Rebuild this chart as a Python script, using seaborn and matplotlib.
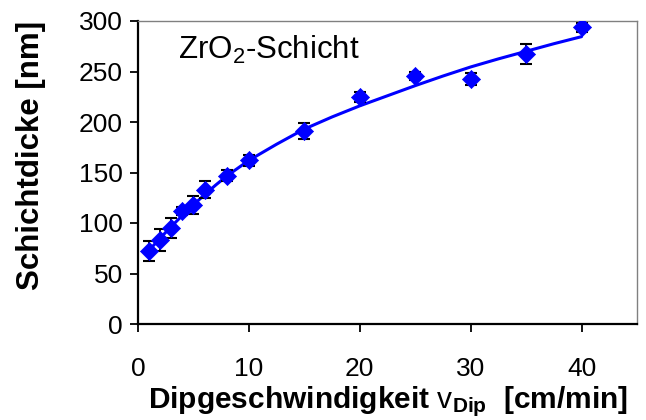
import matplotlib
matplotlib.use("Agg")
import matplotlib.pyplot as plt
import seaborn as sns
import pandas as pd

# Data
speed = [1, 2, 3, 4, 5, 6, 8, 10, 15, 20, 25, 30, 35, 40]
thickness = [72, 83, 95, 112, 118, 133, 147, 162, 191, 225, 246, 243, 267, 294]
errors = [10, 11, 10, 4, 9, 8.5, 5, 5.5, 8, 5, 4, 6, 10, 4.5]

# Fitted trend line
fit_speed = [1, 2, 3, 4, 5, 6, 7, 8, 10, 12.5, 15, 17.5, 20, 22.5, 25, 27.5, 30, 32.5, 35, 37.5, 40]
fit_thickness = [73, 85, 96.5, 107.5, 118, 128, 137.5, 146.5, 162, 178, 193, 205, 216, 226, 236,
                 245.5, 254.5, 262.5, 270, 277.5, 284.5]

x_ticks = [0, 10, 20, 30, 40]
y_ticks = [0, 50, 100, 150, 200, 250, 300]

sns.set_theme(style="white")
plt.rcParams["font.family"] = ["Liberation Sans", "DejaVu Sans"]
plt.rcParams["mathtext.fontset"] = "custom"
plt.rcParams["mathtext.rm"] = "Liberation Sans"
plt.rcParams["mathtext.it"] = "Liberation Sans"
plt.rcParams["mathtext.bf"] = "Liberation Sans:bold"

df = pd.DataFrame({"speed": speed, "thickness": thickness, "err": errors})
fit = pd.DataFrame({"speed": fit_speed, "thickness": fit_thickness})

fig = plt.figure(figsize=(6.46, 4.2), dpi=100)
ax = fig.add_axes([138 / 646, 96 / 420, 499 / 646, 303 / 420])

blue = "#0000ff"
sns.lineplot(data=fit, x="speed", y="thickness", ax=ax, color=blue, linewidth=2.2,
             zorder=2, legend=False)
ax.errorbar(df["speed"], df["thickness"], yerr=df["err"], fmt="none", ecolor="black",
            elinewidth=1.3, capsize=4.2, capthick=1.5, zorder=3)
sns.scatterplot(data=df, x="speed", y="thickness", ax=ax, marker="D", s=85,
                color=blue, edgecolor=blue, linewidth=0.5, zorder=4, legend=False)

ax.set_xlim(0, 45)
ax.set_ylim(0, 300)
ax.set_xticks(x_ticks)
ax.set_yticks(y_ticks)
ax.tick_params(axis="both", which="major", direction="out", length=6, width=1.3,
               color="black", labelsize=19, labelcolor="black", left=True, bottom=True)
ax.tick_params(axis="x", pad=17.5)
ax.tick_params(axis="y", pad=5)

for side in ["left", "bottom"]:
    ax.spines[side].set_color("black")
    ax.spines[side].set_linewidth(1.6)
for side in ["top", "right"]:
    ax.spines[side].set_color("#808080")
    ax.spines[side].set_linewidth(1.0)

ax.set_xlabel(r"Dipgeschwindigkeit $\mathrm{v}_{\mathbf{Dip}}$  [cm/min]",
              fontsize=21.5, fontweight="bold", color="black")
ax.set_ylabel("Schichtdicke [nm]", fontsize=22.5, fontweight="bold", color="black")
ax.xaxis.set_label_coords(0.5, -0.198)
ax.yaxis.set_label_coords(-0.185, 0.555)

ax.text(0.08, 0.875, r"ZrO$_2$-Schicht", transform=ax.transAxes, fontsize=22.5,
        color="black", ha="left", va="baseline")

fig.savefig("out.png", dpi=100, facecolor="white")
